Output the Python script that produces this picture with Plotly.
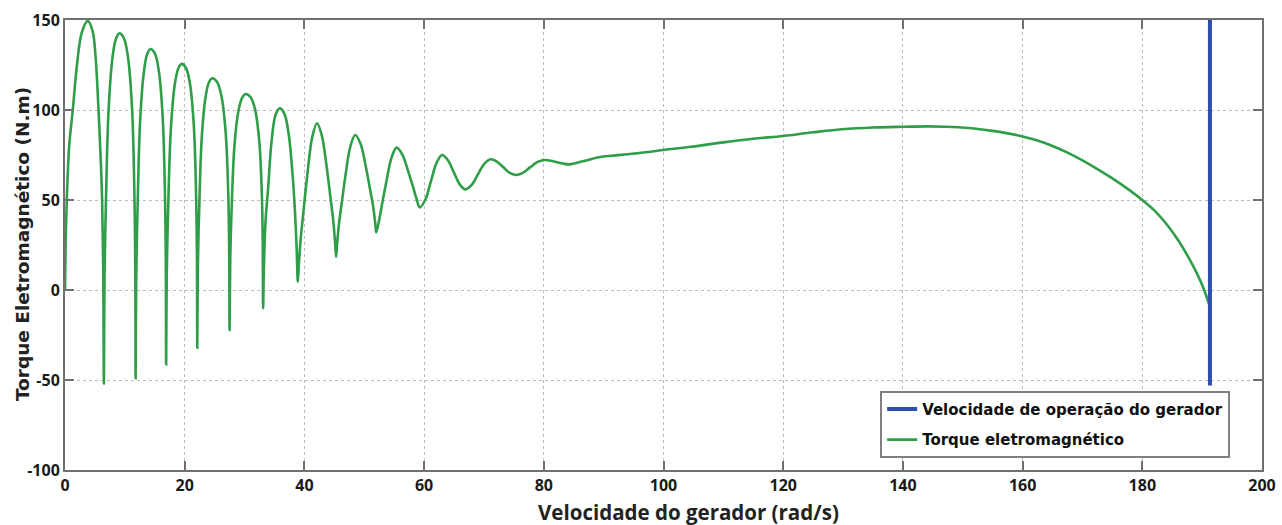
import plotly.graph_objects as go

# Torque eletromagnético (green curve)
torque_x = [
    0.0, 0.1, 0.3, 0.7, 1.3, 2.0, 2.8, 3.8, 4.6, 5.1, 5.6, 6.0, 6.2, 6.38, 6.5,
    6.60, 6.84, 7.28, 7.93, 8.53, 9.1, 9.86, 10.53, 11.21, 11.61, 11.75, 11.8,
    11.9, 12.13, 12.55, 13.18, 13.75, 14.3, 15.03, 15.68, 16.33, 16.72, 16.85, 16.9,
    17.0, 17.24, 17.68, 18.33, 18.93, 19.5, 20.23, 20.88, 21.53, 21.92, 22.05, 22.1,
    22.2, 22.43, 22.85, 23.48, 24.05, 24.6, 25.41, 26.14, 26.86, 27.3, 27.44, 27.5,
    27.61, 27.85, 28.31, 28.99, 29.61, 30.2, 31.01, 31.74, 32.46, 32.9, 33.04, 33.1,
    33.22, 33.5, 33.95, 34.5, 35.2, 35.9, 36.65, 37.4, 38.0, 38.4, 38.72, 38.9,
    39.06, 39.38, 39.86, 40.5, 41.3, 42.1, 42.9, 43.7, 44.34, 44.82, 45.14, 45.3,
    45.46, 45.78, 46.26, 46.9, 47.7, 48.5, 49.38, 50.25, 50.95, 51.48, 51.83, 52.0,
    52.51, 53.02, 53.7, 54.55, 55.4, 56.38, 57.35, 58.13, 58.72, 59.3,
    60.22, 61.15, 62.08, 63.0, 63.98, 64.95, 65.93, 66.9,
    67.95, 69.0, 70.05, 71.1, 72.15, 73.2, 74.25, 75.3,
    76.5, 77.7, 78.9, 80.1, 81.15, 82.2, 83.25, 84.3,
    86.5, 89.6, 92.0, 94.0, 97.0, 99.9, 104.7, 110.0, 115.0, 120.0, 125.0, 129.8,
    135.0, 140.2, 144.0, 147.1, 151.0, 155.0, 157.5, 160.0, 162.5, 165.0, 167.5,
    170.0, 172.5, 175.0, 177.5, 180.0, 182.0, 184.0, 186.0, 188.0, 190.0, 191.3,
]
torque_y = [
    0.0, 25, 50, 80, 100, 125, 143, 149.5, 144, 130, 100, 70, 50, 15, -52,
    6.4, 49.2, 99.8, 129.0, 139.7, 142.6, 139.7, 129.2, 100.4, 50.6, 8.5, -49,
    5.9, 46.1, 93.7, 121.1, 131.2, 133.9, 131.3, 121.6, 95.4, 49.8, 11.3, -41.3,
    8.8, 45.5, 88.9, 113.9, 123.1, 125.6, 123.2, 114.6, 90.9, 50.0, 15.3, -32,
    12.9, 45.8, 84.7, 107.1, 115.4, 117.6, 115.5, 107.8, 86.8, 50.5, 19.7, -22.2,
    17.1, 46.0, 80.1, 99.7, 106.9, 108.9, 107.1, 100.6, 82.7, 51.7, 25.5, -10.2,
    10, 38, 57, 82, 97.5, 100.9, 98, 86, 65, 45, 22, 4.6,
    13.4, 28.4, 44.2, 64.4, 84.7, 92.6, 85.9, 68.9, 51.8, 38.5, 25.9, 18.5,
    25.3, 36.8, 48.9, 64.5, 80.0, 86.1, 81.2, 68.8, 56.3, 46.6, 37.4, 32.0,
    39.1, 48.5, 60.3, 73.4, 79.1, 75.1, 65.8, 57.5, 50.9, 45.9,
    50.3, 60.5, 70.6, 75.0, 72.1, 65.5, 58.8, 55.9,
    58.4, 64.3, 70.1, 72.6, 71.3, 68.3, 65.2, 63.9,
    65.1, 68.1, 71.0, 72.2, 71.8, 71.0, 70.2, 69.8,
    71.5, 74.0, 74.8, 75.4, 76.5, 77.8, 79.6, 82.0, 84.0, 85.6, 87.6, 89.3,
    90.3, 90.7, 90.9, 90.7, 90.0, 88.4, 87.0, 85.3, 83.0, 80.0, 76.3,
    72.0, 67.2, 62.0, 56.3, 50.0, 44.2, 36.8, 27.6, 16.4, 2.8, -9.3,
]

# Velocidade de operação do gerador (blue vertical line)
operation_x = [191.3, 191.3]
operation_y = [-53, 150]

x_ticks = [0, 20, 40, 60, 80, 100, 120, 140, 160, 180, 200]
x_tick_text = ["0", "20", "40", "60", "80", "100", "120", "140", "160", "180", "200"]
y_ticks = [-100, -50, 0, 50, 100, 150]
y_tick_text = ["-100", "-50", "0", "50", "100", "150"]

fig = go.Figure()
fig.add_trace(go.Scatter(
    x=torque_x, y=torque_y, mode="lines",
    name="Torque eletromagnético",
    line=dict(color="#2E9E48", width=2.6, shape="spline", smoothing=1.0),
    legendrank=2, legendgroup="b",
))
fig.add_trace(go.Scatter(
    x=operation_x, y=operation_y, mode="lines",
    name="Velocidade de operação do gerador",
    line=dict(color="#2B4DAE", width=4),
    legendrank=1, legendgroup="a",
))

axis_common = dict(
    showline=True, linecolor="#707070", linewidth=2, mirror="ticks",
    ticks="inside", ticklen=9, tickwidth=2, tickcolor="#707070",
    showgrid=True, gridcolor="#BDBDBD", gridwidth=1, griddash="dot",
    zeroline=False, automargin=False,
    tickfont=dict(family="Open Sans", size=16, color="#1a1a1a", weight="bold"),
)

fig.update_xaxes(range=[0, 200], tickvals=x_ticks, ticktext=x_tick_text, **axis_common)
fig.update_yaxes(range=[-100, 150], tickvals=y_ticks, ticktext=y_tick_text, **axis_common)

fig.update_layout(
    width=1282, height=525,
    margin=dict(l=65, r=20, t=20, b=55),
    paper_bgcolor="white", plot_bgcolor="white",
    showlegend=True,
    legend=dict(
        x=0.681, y=0.027, xanchor="left", yanchor="bottom",
        bgcolor="white", bordercolor="#808080", borderwidth=2,
        font=dict(family="DejaVu Sans", size=15, color="#111111", weight="bold"),
        tracegroupgap=8,
    ),
    annotations=[
        dict(text="Velocidade do gerador (rad/s)", xref="paper", yref="paper",
             x=(688 - 65) / 1197, y=-(512 - 470) / 450, xanchor="center", yanchor="middle",
             showarrow=False,
             font=dict(family="Open Sans", size=20.5, color="#222222", weight="bold")),
        dict(text="Torque Eletromagnético (N.m)", xref="paper", yref="paper",
             x=-(65 - 22) / 1197, y=0.502, xanchor="center", yanchor="middle",
             textangle=-90, showarrow=False,
             font=dict(family="DejaVu Sans", size=18.5, color="#222222", weight="bold")),
    ],
)

fig.write_html("out.html")
